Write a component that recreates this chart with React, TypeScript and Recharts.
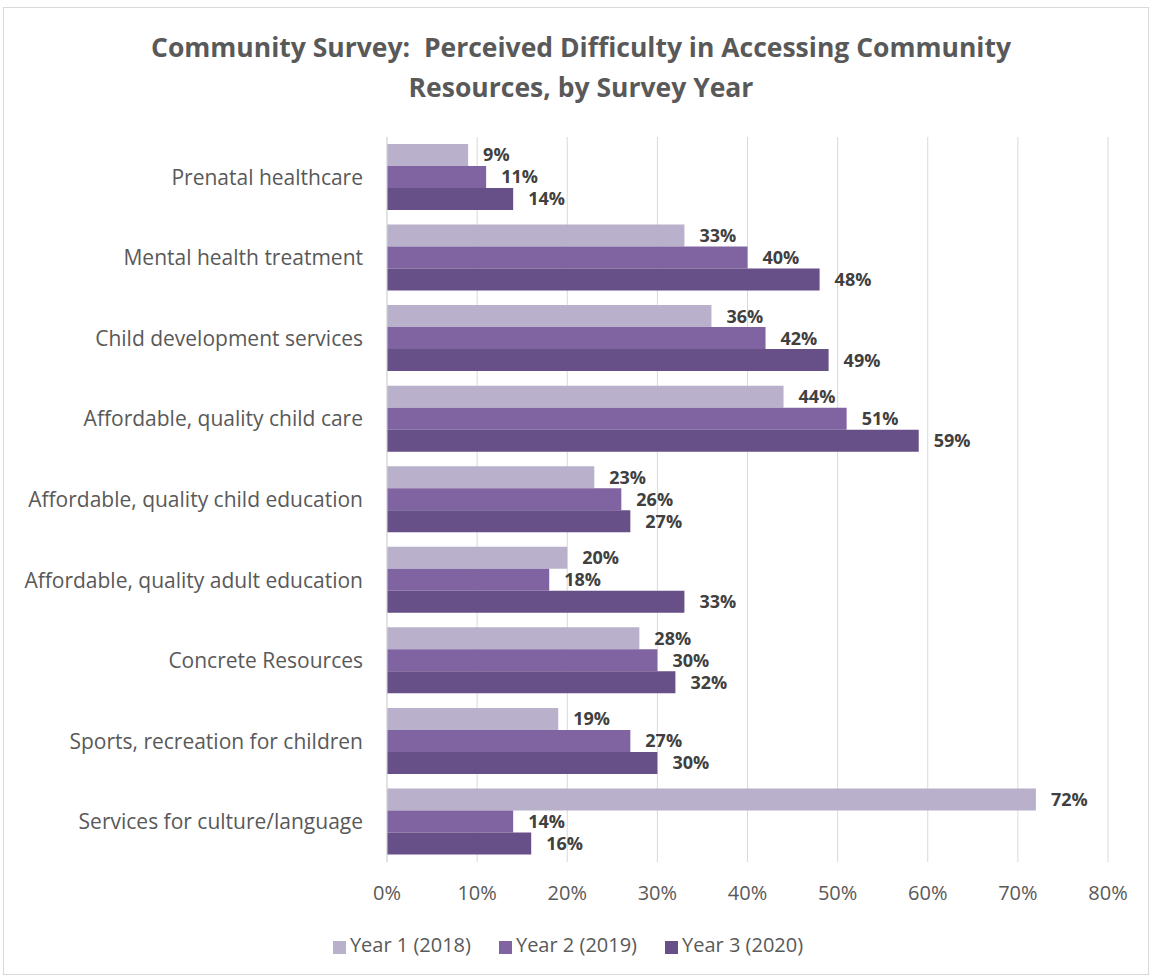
import { BarChart, Bar, XAxis, YAxis, CartesianGrid, Legend, LabelList } from 'recharts';

const categories = [
  'Prenatal healthcare',
  'Mental health treatment',
  'Child development services',
  'Affordable, quality child care',
  'Affordable, quality child education',
  'Affordable, quality adult education',
  'Concrete Resources',
  'Sports, recreation for children',
  'Services for culture/language',
];

const year1 = [9, 33, 36, 44, 23, 20, 28, 19, 72];
const year2 = [11, 40, 42, 51, 26, 18, 30, 27, 14];
const year3 = [14, 48, 49, 59, 27, 33, 32, 30, 16];

const xTicks = [0, 10, 20, 30, 40, 50, 60, 70, 80];

const data = categories.map((name, i) => ({
  name,
  y1: year1[i],
  y2: year2[i],
  y3: year3[i],
}));

const font = '"Open Sans", "Noto Sans", sans-serif';
const gray = '#595959';

const series = [
  { key: 'y1', name: 'Year 1 (2018)', color: '#B9B0CB' },
  { key: 'y2', name: 'Year 2 (2019)', color: '#8064A2' },
  { key: 'y3', name: 'Year 3 (2020)', color: '#674F87' },
];

export default function App() {
  return (
    <div style={{ position: 'relative', width: 1153, height: 979, fontFamily: font }}>
      <style>{'body{margin:0}'}</style>
      <div
        style={{
          position: 'absolute', left: 3, top: 7, width: 1146, height: 968,
          border: '1px solid #D9D9D9', boxSizing: 'border-box',
        }}
      />
      <div
        style={{
          position: 'absolute', left: 0, top: 27, width: 1162, textAlign: 'center',
          fontSize: 26.5, fontWeight: 700, color: gray, lineHeight: '40px',
        }}
      >
        Community Survey:&nbsp; Perceived Difficulty in Accessing Community
        <br />
        Resources, by Survey Year
      </div>
      <BarChart
        width={1153}
        height={979}
        data={data}
        layout="vertical"
        margin={{ top: 137, right: 45, left: 0, bottom: 18 }}
        barGap={0}
        barSize={22}
        style={{ position: 'absolute', left: 0, top: 0 }}
      >
        <CartesianGrid horizontal={false} stroke="#D9D9D9" />
        <XAxis
          type="number"
          domain={[0, 80]}
          ticks={xTicks}
          tickFormatter={(v) => `${v}%`}
          axisLine={false}
          tickLine={false}
          tickMargin={18}
          height={69}
          tick={{ fill: gray, fontSize: 20, fontFamily: font }}
        />
        <YAxis
          type="category"
          dataKey="name"
          width={387}
          axisLine={{ stroke: '#D9D9D9' }}
          tickLine={false}
          tickMargin={18}
          interval={0}
          tick={{ fill: gray, fontSize: 21, fontFamily: font }}
        />
        <Legend
          verticalAlign="bottom"
          height={30}
          iconType="square"
          iconSize={13}
          wrapperStyle={{ left: 28 }}
          formatter={(value) => (
            <span style={{ color: gray, fontSize: 20, fontFamily: font, marginRight: 18 }}>{value}</span>
          )}
        />
        {series.map((s) => (
          <Bar key={s.key} dataKey={s.key} name={s.name} fill={s.color} isAnimationActive={false}>
            <LabelList
              dataKey={s.key}
              position="right"
              offset={15}
              formatter={(v: number) => `${v}%`}
              style={{ fill: '#404040', fontSize: 18, fontWeight: 700, fontFamily: font }}
            />
          </Bar>
        ))}
      </BarChart>
    </div>
  );
}
